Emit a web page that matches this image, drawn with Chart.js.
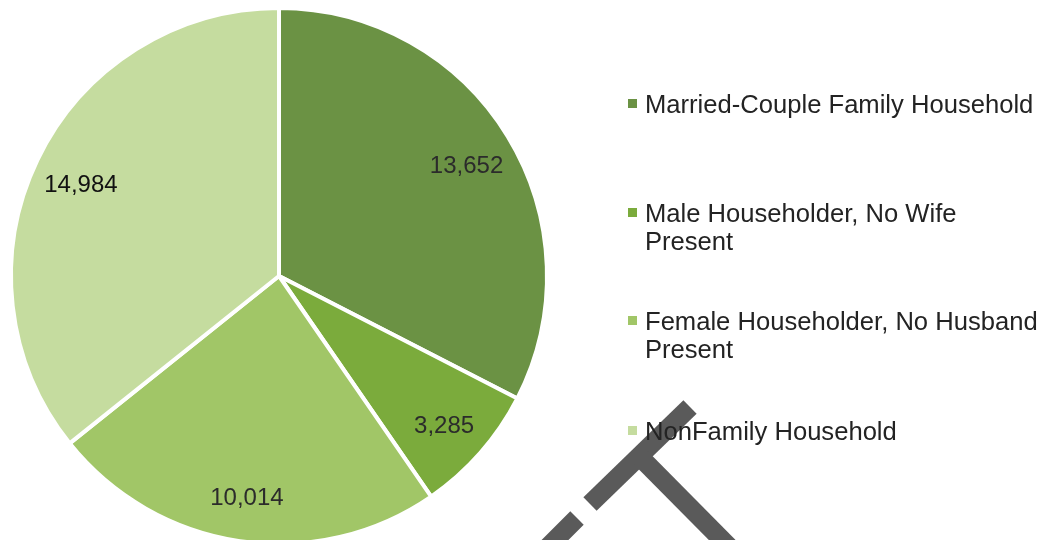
<!DOCTYPE html>
<html>
<head>
<meta charset="utf-8">
<script src="https://cdn.jsdelivr.net/npm/chart.js@4.4.1/dist/chart.umd.min.js"></script>
<style>
  html, body { margin: 0; padding: 0; background: #fff; overflow: hidden; }
  #wrap { position: relative; width: 1040px; height: 552px; }
</style>
</head>
<body>
<div id="wrap"><canvas id="householdChart"></canvas></div>
<script>
const categories = [
  'Married-Couple Family Household',
  ['Male Householder, No Wife', 'Present'],
  ['Female Householder, No Husband', 'Present'],
  'NonFamily Household'
];
const households = [13652, 3285, 10014, 14984];
const sliceColors = ['#6b9244', '#7bab3c', '#a1c667', '#c5dc9f'];

// slice value labels, placed along each arc's middle angle
const valueLabels = {
  id: 'valueLabels',
  afterDatasetsDraw(chart) {
    const ctx = chart.ctx;
    ctx.save();
    ctx.font = '24px "Liberation Sans", Arial, sans-serif';
    ctx.textAlign = 'center';
    ctx.textBaseline = 'middle';
    chart.getDatasetMeta(0).data.forEach((arc, i) => {
      const p = arc.getProps(['x', 'y', 'startAngle', 'endAngle', 'outerRadius'], true);
      const mid = (p.startAngle + p.endAngle) / 2;
      const r = p.outerRadius * 0.82;
      ctx.fillStyle = i === 3 ? '#111' : '#2b2b2b';
      ctx.fillText(households[i].toLocaleString('en-US'), p.x + Math.cos(mid) * r, p.y + Math.sin(mid) * r + 5);
    });
    ctx.restore();
  }
};

// the stray dark marks from the scanned page
const scanMarks = {
  id: 'scanMarks',
  afterDraw(chart) {
    const ctx = chart.ctx;
    ctx.save();
    ctx.strokeStyle = '#5a5a5a';
    ctx.lineWidth = 19;
    ctx.lineCap = 'butt';
    const seg = (x1, y1, x2, y2) => {
      ctx.beginPath();
      ctx.moveTo(x1, y1);
      ctx.lineTo(x2, y2);
      ctx.stroke();
    };
    seg(690, 407, 590, 504);
    seg(577, 518, 530, 565);
    seg(641, 458, 744, 562);
    ctx.restore();
  }
};

// legend on the right, square markers, wrapped labels
const sideLegend = {
  id: 'sideLegend',
  afterDraw(chart) {
    const ctx = chart.ctx;
    const baselines = [113, 222, 330, 440];
    ctx.save();
    ctx.font = '25.6px "Liberation Sans", Arial, sans-serif';
    ctx.textAlign = 'left';
    ctx.textBaseline = 'alphabetic';
    categories.forEach((label, i) => {
      const lines = Array.isArray(label) ? label : [label];
      const y = baselines[i];
      ctx.fillStyle = sliceColors[i];
      ctx.fillRect(628, y - 14, 9, 9);
      ctx.fillStyle = '#232323';
      lines.forEach((line, j) => ctx.fillText(line, 645, y + j * 28));
    });
    ctx.restore();
  }
};

const data = {
  labels: categories,
  datasets: [{
    data: households,
    backgroundColor: sliceColors,
    borderColor: '#ffffff',
    borderWidth: 4,
    hoverOffset: 0,
    offset: 0,
    radius: 268
  }]
};

const config = {
  type: 'pie',
  data: data,
  options: {
    responsive: true,
    maintainAspectRatio: false,
    animation: false,
    layout: {
      padding: { left: 0, top: 0, bottom: 0, right: 482 }
    },
    plugins: {
      legend: { display: false },
      tooltip: { enabled: false }
    }
  },
  plugins: [valueLabels, scanMarks, sideLegend]
};

const householdChart = new Chart(document.getElementById('householdChart'), config);
</script>
</body>
</html>
